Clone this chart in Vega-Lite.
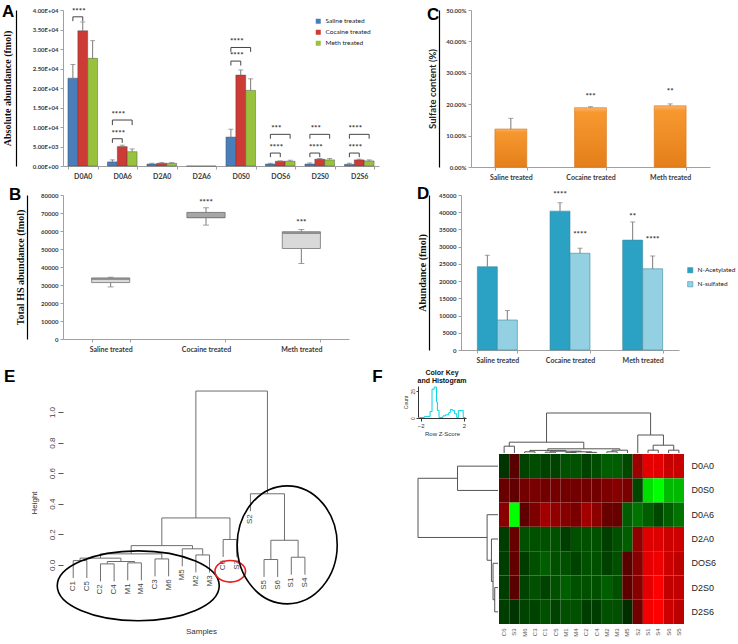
{
"$schema": "https://vega.github.io/schema/vega-lite/v6.json",
"background": "white",
"padding": {"left": 2, "top": 3, "right": 0, "bottom": 0},
"config": {"view": {"stroke": null}, "font": "Liberation Sans", "axis": {"grid": false}, "legend": {"labelFont": "Lato", "labelFontSize": 7.5, "labelColor": "#222"}},
"datasets": {
"hsA": [
{"disacc":"D0A0","treatment":"Saline treated","mean":22530,"upper":26030},
{"disacc":"D0A0","treatment":"Cocaine treated","mean":34670,"upper":36940},
{"disacc":"D0A0","treatment":"Meth treated","mean":27600,"upper":32140},
{"disacc":"D0A6","treatment":"Saline treated","mean":1050,"upper":1570},
{"disacc":"D0A6","treatment":"Cocaine treated","mean":4980,"upper":5330},
{"disacc":"D0A6","treatment":"Meth treated","mean":3670,"upper":4370},
{"disacc":"D2A0","treatment":"Saline treated","mean":520,"upper":700},
{"disacc":"D2A0","treatment":"Cocaine treated","mean":700,"upper":870},
{"disacc":"D2A0","treatment":"Meth treated","mean":700,"upper":870},
{"disacc":"D2A6","treatment":"Saline treated","mean":0,"upper":null},
{"disacc":"D2A6","treatment":"Cocaine treated","mean":0,"upper":null},
{"disacc":"D2A6","treatment":"Meth treated","mean":0,"upper":null},
{"disacc":"D0S0","treatment":"Saline treated","mean":7420,"upper":9430},
{"disacc":"D0S0","treatment":"Cocaine treated","mean":23320,"upper":24630},
{"disacc":"D0S0","treatment":"Meth treated","mean":19390,"upper":22360},
{"disacc":"DOS6","treatment":"Saline treated","mean":520,"upper":700},
{"disacc":"DOS6","treatment":"Cocaine treated","mean":1220,"upper":1310},
{"disacc":"DOS6","treatment":"Meth treated","mean":1220,"upper":1480},
{"disacc":"D2S0","treatment":"Saline treated","mean":520,"upper":780},
{"disacc":"D2S0","treatment":"Cocaine treated","mean":1750,"upper":1920},
{"disacc":"D2S0","treatment":"Meth treated","mean":1570,"upper":1920},
{"disacc":"D2S6","treatment":"Saline treated","mean":440,"upper":700},
{"disacc":"D2S6","treatment":"Cocaine treated","mean":1570,"upper":1750},
{"disacc":"D2S6","treatment":"Meth treated","mean":1310,"upper":1570}
],
"bracketsA": [
{"id":"b1","disacc":"D0A0","treatment":"Saline treated","y":37130,"ord":1},
{"id":"b1","disacc":"D0A0","treatment":"Saline treated","y":38250,"ord":2},
{"id":"b1","disacc":"D0A0","treatment":"Cocaine treated","y":38250,"ord":3},
{"id":"b1","disacc":"D0A0","treatment":"Cocaine treated","y":37130,"ord":4},
{"id":"b2","disacc":"D0A6","treatment":"Saline treated","y":10480,"ord":1},
{"id":"b2","disacc":"D0A6","treatment":"Saline treated","y":11790,"ord":2},
{"id":"b2","disacc":"D0A6","treatment":"Meth treated","y":11790,"ord":3},
{"id":"b2","disacc":"D0A6","treatment":"Meth treated","y":10480,"ord":4},
{"id":"b3","disacc":"D0A6","treatment":"Saline treated","y":5940,"ord":1},
{"id":"b3","disacc":"D0A6","treatment":"Saline treated","y":6990,"ord":2},
{"id":"b3","disacc":"D0A6","treatment":"Cocaine treated","y":6990,"ord":3},
{"id":"b3","disacc":"D0A6","treatment":"Cocaine treated","y":5940,"ord":4},
{"id":"b4","disacc":"D0S0","treatment":"Saline treated","y":29260,"ord":1},
{"id":"b4","disacc":"D0S0","treatment":"Saline treated","y":30390,"ord":2},
{"id":"b4","disacc":"D0S0","treatment":"Meth treated","y":30390,"ord":3},
{"id":"b4","disacc":"D0S0","treatment":"Meth treated","y":29260,"ord":4},
{"id":"b5","disacc":"D0S0","treatment":"Saline treated","y":25760,"ord":1},
{"id":"b5","disacc":"D0S0","treatment":"Saline treated","y":26900,"ord":2},
{"id":"b5","disacc":"D0S0","treatment":"Cocaine treated","y":26900,"ord":3},
{"id":"b5","disacc":"D0S0","treatment":"Cocaine treated","y":25760,"ord":4},
{"id":"b6","disacc":"DOS6","treatment":"Saline treated","y":6990,"ord":1},
{"id":"b6","disacc":"DOS6","treatment":"Saline treated","y":8120,"ord":2},
{"id":"b6","disacc":"DOS6","treatment":"Meth treated","y":8120,"ord":3},
{"id":"b6","disacc":"DOS6","treatment":"Meth treated","y":6990,"ord":4},
{"id":"b7","disacc":"DOS6","treatment":"Saline treated","y":2270,"ord":1},
{"id":"b7","disacc":"DOS6","treatment":"Saline treated","y":3320,"ord":2},
{"id":"b7","disacc":"DOS6","treatment":"Cocaine treated","y":3320,"ord":3},
{"id":"b7","disacc":"DOS6","treatment":"Cocaine treated","y":2270,"ord":4},
{"id":"b8","disacc":"D2S0","treatment":"Saline treated","y":6990,"ord":1},
{"id":"b8","disacc":"D2S0","treatment":"Saline treated","y":8120,"ord":2},
{"id":"b8","disacc":"D2S0","treatment":"Meth treated","y":8120,"ord":3},
{"id":"b8","disacc":"D2S0","treatment":"Meth treated","y":6990,"ord":4},
{"id":"b9","disacc":"D2S0","treatment":"Saline treated","y":2270,"ord":1},
{"id":"b9","disacc":"D2S0","treatment":"Saline treated","y":3320,"ord":2},
{"id":"b9","disacc":"D2S0","treatment":"Cocaine treated","y":3320,"ord":3},
{"id":"b9","disacc":"D2S0","treatment":"Cocaine treated","y":2270,"ord":4},
{"id":"b10","disacc":"D2S6","treatment":"Saline treated","y":6990,"ord":1},
{"id":"b10","disacc":"D2S6","treatment":"Saline treated","y":8120,"ord":2},
{"id":"b10","disacc":"D2S6","treatment":"Meth treated","y":8120,"ord":3},
{"id":"b10","disacc":"D2S6","treatment":"Meth treated","y":6990,"ord":4},
{"id":"b11","disacc":"D2S6","treatment":"Saline treated","y":2270,"ord":1},
{"id":"b11","disacc":"D2S6","treatment":"Saline treated","y":3320,"ord":2},
{"id":"b11","disacc":"D2S6","treatment":"Cocaine treated","y":3320,"ord":3},
{"id":"b11","disacc":"D2S6","treatment":"Cocaine treated","y":2270,"ord":4}
],
"starsA": [
{"disacc":"D0A0","treatment":"Cocaine treated","y":38250,"label":"****"},
{"disacc":"D0A6","treatment":"Cocaine treated","y":11790,"label":"****"},
{"disacc":"D0A6","treatment":"Cocaine treated","y":6990,"label":"****"},
{"disacc":"D0S0","treatment":"Cocaine treated","y":30390,"label":"****"},
{"disacc":"D0S0","treatment":"Cocaine treated","y":26900,"label":"****"},
{"disacc":"DOS6","treatment":"Cocaine treated","y":8120,"label":"***"},
{"disacc":"DOS6","treatment":"Cocaine treated","y":3320,"label":"****"},
{"disacc":"D2S0","treatment":"Cocaine treated","y":8120,"label":"***"},
{"disacc":"D2S0","treatment":"Cocaine treated","y":3320,"label":"****"},
{"disacc":"D2S6","treatment":"Cocaine treated","y":8120,"label":"****"},
{"disacc":"D2S6","treatment":"Cocaine treated","y":3320,"label":"****"}
],
"boxB": [
{"group":"Saline treated","lo":28940,"q1":31350,"med":33300,"q3":33900,"hi":34320,"star":"","starY":33000},
{"group":"Cocaine treated","lo":63270,"q1":67350,"med":67500,"q3":70320,"hi":72910,"star":"****","starY":75700},
{"group":"Meth treated","lo":41930,"q1":50280,"med":58800,"q3":59550,"hi":60850,"star":"***","starY":64560}
],
"sulC": [
{"group":"Saline treated","value":0.1209,"upper":0.155,"star":"","starY":0.1},
{"group":"Cocaine treated","value":0.189,"upper":0.192,"star":"***","starY":0.222},
{"group":"Meth treated","value":0.195,"upper":0.201,"star":"**","starY":0.240}
],
"nD": [
{"group":"Saline treated","type":"N-Acetylated","value":24170,"upper":27500,"star":"","starY":20000},
{"group":"Saline treated","type":"N-sulfated","value":8710,"upper":11450,"star":"","starY":5000},
{"group":"Cocaine treated","type":"N-Acetylated","value":40310,"upper":42760,"star":"****","starY":45000},
{"group":"Cocaine treated","type":"N-sulfated","value":28080,"upper":29550,"star":"****","starY":33270},
{"group":"Meth treated","type":"N-Acetylated","value":31900,"upper":37180,"star":"**","starY":38750},
{"group":"Meth treated","type":"N-sulfated","value":23580,"upper":27300,"star":"****","starY":31800}
],
"dendroE": [
{"x":0,"x2":0,"y":-0.086,"y2":0.028},{"x":1,"x2":1,"y":-0.086,"y2":0.028},{"x":0,"x2":1,"y":0.028,"y2":0.028},
{"x":2,"x2":2,"y":-0.1075,"y2":0.0065},{"x":3,"x2":3,"y":-0.1075,"y2":0.0065},{"x":2,"x2":3,"y":0.0065,"y2":0.0065},
{"x":4,"x2":4,"y":-0.101,"y2":0.013},{"x":5,"x2":5,"y":-0.101,"y2":0.013},{"x":4,"x2":5,"y":0.013,"y2":0.013},
{"x":2.5,"x2":2.5,"y":0.0065,"y2":0.022},{"x":4.5,"x2":4.5,"y":0.013,"y2":0.022},{"x":2.5,"x2":4.5,"y":0.022,"y2":0.022},
{"x":0.5,"x2":0.5,"y":0.028,"y2":0.044},{"x":3.5,"x2":3.5,"y":0.022,"y2":0.044},{"x":0.5,"x2":3.5,"y":0.044,"y2":0.044},
{"x":6,"x2":6,"y":-0.075,"y2":0.039},{"x":7,"x2":7,"y":-0.075,"y2":0.039},{"x":6,"x2":7,"y":0.039,"y2":0.039},
{"x":2,"x2":2,"y":0.044,"y2":0.072},{"x":6.5,"x2":6.5,"y":0.039,"y2":0.072},{"x":2,"x2":6.5,"y":0.072,"y2":0.072},
{"x":9,"x2":9,"y":-0.049,"y2":0.065},{"x":10,"x2":10,"y":-0.049,"y2":0.065},{"x":9,"x2":10,"y":0.065,"y2":0.065},
{"x":8,"x2":8,"y":-0.009,"y2":0.105},{"x":9.5,"x2":9.5,"y":0.065,"y2":0.105},{"x":8,"x2":9.5,"y":0.105,"y2":0.105},
{"x":4.25,"x2":4.25,"y":0.072,"y2":0.126},{"x":8.75,"x2":8.75,"y":0.105,"y2":0.126},{"x":4.25,"x2":8.75,"y":0.126,"y2":0.126},
{"x":11,"x2":11,"y":0.052,"y2":0.166},{"x":12,"x2":12,"y":0.052,"y2":0.166},{"x":11,"x2":12,"y":0.166,"y2":0.166},
{"x":6.5,"x2":6.5,"y":0.126,"y2":0.307},{"x":11.5,"x2":11.5,"y":0.166,"y2":0.307},{"x":6.5,"x2":11.5,"y":0.307,"y2":0.307},
{"x":14,"x2":14,"y":-0.079,"y2":0.035},{"x":15,"x2":15,"y":-0.079,"y2":0.035},{"x":14,"x2":15,"y":0.035,"y2":0.035},
{"x":16,"x2":16,"y":-0.064,"y2":0.05},{"x":17,"x2":17,"y":-0.064,"y2":0.05},{"x":16,"x2":17,"y":0.05,"y2":0.05},
{"x":14.5,"x2":14.5,"y":0.035,"y2":0.161},{"x":16.5,"x2":16.5,"y":0.05,"y2":0.161},{"x":14.5,"x2":16.5,"y":0.161,"y2":0.161},
{"x":13,"x2":13,"y":0.351,"y2":0.465},{"x":15.5,"x2":15.5,"y":0.161,"y2":0.465},{"x":13,"x2":15.5,"y":0.465,"y2":0.465},
{"x":9,"x2":9,"y":0.307,"y2":1.137},{"x":14.25,"x2":14.25,"y":0.465,"y2":1.137},{"x":9,"x2":14.25,"y":1.137,"y2":1.137}
],
"leavesE": [
{"leaf":"C1","idx":0,"h":-0.086},{"leaf":"C5","idx":1,"h":-0.086},{"leaf":"C2","idx":2,"h":-0.1075},{"leaf":"C4","idx":3,"h":-0.1075},
{"leaf":"M1","idx":4,"h":-0.101},{"leaf":"M4","idx":5,"h":-0.101},{"leaf":"C3","idx":6,"h":-0.075},{"leaf":"M6","idx":7,"h":-0.075},
{"leaf":"M5","idx":8,"h":-0.009},{"leaf":"M2","idx":9,"h":-0.049},{"leaf":"M3","idx":10,"h":-0.049},{"leaf":"C6","idx":11,"h":0.052},
{"leaf":"S3","idx":12,"h":0.052},{"leaf":"S2","idx":13,"h":0.351},{"leaf":"S5","idx":14,"h":-0.079},{"leaf":"S6","idx":15,"h":-0.079},
{"leaf":"S1","idx":16,"h":-0.064},{"leaf":"S4","idx":17,"h":-0.064}
],
"histF": [
{"z":-2.24,"count":0.5},{"z":-1.65,"count":1.5},{"z":-1.13,"count":6},{"z":-0.95,"count":27},{"z":-0.75,"count":29},
{"z":-0.54,"count":15},{"z":-0.45,"count":7},{"z":-0.3,"count":0.5},{"z":0.06,"count":2},{"z":0.3,"count":3},
{"z":0.6,"count":5},{"z":0.75,"count":8},{"z":0.95,"count":7},{"z":1.13,"count":4},{"z":1.34,"count":0.5},
{"z":1.49,"count":7},{"z":1.79,"count":7},{"z":1.94,"count":0.5},{"z":2.15,"count":0.5}
],
"colDendroF": [
{"x":0,"x2":0,"y":0,"y2":0.17},{"x":1,"x2":1,"y":0,"y2":0.17},{"x":0,"x2":1,"y":0.17,"y2":0.17},
{"x":2,"x2":2,"y":0,"y2":0.03},{"x":3,"x2":3,"y":0,"y2":0.03},{"x":2,"x2":3,"y":0.03,"y2":0.03},
{"x":4,"x2":4,"y":0,"y2":0.02},{"x":5,"x2":5,"y":0,"y2":0.02},{"x":4,"x2":5,"y":0.02,"y2":0.02},
{"x":6,"x2":6,"y":0,"y2":0.015},{"x":7,"x2":7,"y":0,"y2":0.015},{"x":6,"x2":7,"y":0.015,"y2":0.015},
{"x":8,"x2":8,"y":0,"y2":0.015},{"x":9,"x2":9,"y":0,"y2":0.015},{"x":8,"x2":9,"y":0.015,"y2":0.015},
{"x":6.5,"x2":6.5,"y":0.015,"y2":0.03},{"x":8.5,"x2":8.5,"y":0.015,"y2":0.03},{"x":6.5,"x2":8.5,"y":0.03,"y2":0.03},
{"x":4.5,"x2":4.5,"y":0.02,"y2":0.045},{"x":7.5,"x2":7.5,"y":0.03,"y2":0.045},{"x":4.5,"x2":7.5,"y":0.045,"y2":0.045},
{"x":2.5,"x2":2.5,"y":0.03,"y2":0.065},{"x":6,"x2":6,"y":0.045,"y2":0.065},{"x":2.5,"x2":6,"y":0.065,"y2":0.065},
{"x":10,"x2":10,"y":0,"y2":0.03},{"x":11,"x2":11,"y":0,"y2":0.03},{"x":10,"x2":11,"y":0.03,"y2":0.03},
{"x":10.5,"x2":10.5,"y":0.03,"y2":0.07},{"x":12,"x2":12,"y":0,"y2":0.07},{"x":10.5,"x2":12,"y":0.07,"y2":0.07},
{"x":4.25,"x2":4.25,"y":0.065,"y2":0.105},{"x":11.25,"x2":11.25,"y":0.07,"y2":0.105},{"x":4.25,"x2":11.25,"y":0.105,"y2":0.105},
{"x":0.5,"x2":0.5,"y":0.17,"y2":0.27},{"x":7.75,"x2":7.75,"y":0.105,"y2":0.27},{"x":0.5,"x2":7.75,"y":0.27,"y2":0.27},
{"x":14,"x2":14,"y":0,"y2":0.07},{"x":15,"x2":15,"y":0,"y2":0.07},{"x":14,"x2":15,"y":0.07,"y2":0.07},
{"x":16,"x2":16,"y":0,"y2":0.07},{"x":17,"x2":17,"y":0,"y2":0.07},{"x":16,"x2":17,"y":0.07,"y2":0.07},
{"x":14.5,"x2":14.5,"y":0.07,"y2":0.195},{"x":16.5,"x2":16.5,"y":0.07,"y2":0.195},{"x":14.5,"x2":16.5,"y":0.195,"y2":0.195},
{"x":13,"x2":13,"y":0,"y2":0.45},{"x":15.5,"x2":15.5,"y":0.195,"y2":0.45},{"x":13,"x2":15.5,"y":0.45,"y2":0.45},
{"x":4.125,"x2":4.125,"y":0.27,"y2":1},{"x":14.25,"x2":14.25,"y":0.45,"y2":1},{"x":4.125,"x2":14.25,"y":1,"y2":1}
],
"rowDendroF": [
{"h":0,"h2":0.506,"r":0,"r2":0},{"h":0,"h2":0.506,"r":1,"r2":1},{"h":0.506,"h2":0.506,"r":0,"r2":1},
{"h":0,"h2":0.041,"r":5,"r2":5},{"h":0,"h2":0.041,"r":6,"r2":6},{"h":0.041,"h2":0.041,"r":5,"r2":6},
{"h":0,"h2":0.062,"r":4,"r2":4},{"h":0.041,"h2":0.062,"r":5.5,"r2":5.5},{"h":0.062,"h2":0.062,"r":4,"r2":5.5},
{"h":0,"h2":0.082,"r":3,"r2":3},{"h":0.062,"h2":0.082,"r":4.75,"r2":4.75},{"h":0.082,"h2":0.082,"r":3,"r2":4.75},
{"h":0,"h2":0.136,"r":2,"r2":2},{"h":0.082,"h2":0.136,"r":3.875,"r2":3.875},{"h":0.136,"h2":0.136,"r":2,"r2":3.875},
{"h":0.506,"h2":1,"r":0.5,"r2":0.5},{"h":0.136,"h2":1,"r":2.9375,"r2":2.9375},{"h":1,"h2":1,"r":0.5,"r2":2.9375}
],
"heatF": [
{"feature":"D0A0","sample":"C6","z":-0.3},{"feature":"D0A0","sample":"S3","z":0},{"feature":"D0A0","sample":"M6","z":-0.45},{"feature":"D0A0","sample":"C3","z":-0.55},{"feature":"D0A0","sample":"C1","z":-0.45},{"feature":"D0A0","sample":"C5","z":-0.45},{"feature":"D0A0","sample":"M1","z":-0.6},{"feature":"D0A0","sample":"M4","z":-0.6},{"feature":"D0A0","sample":"C2","z":-0.45},{"feature":"D0A0","sample":"C4","z":-0.55},{"feature":"D0A0","sample":"M2","z":-0.7},{"feature":"D0A0","sample":"M3","z":-0.7},{"feature":"D0A0","sample":"M5","z":-0.5},{"feature":"D0A0","sample":"S2","z":0.88},{"feature":"D0A0","sample":"S1","z":1.7},{"feature":"D0A0","sample":"S4","z":1.7},{"feature":"D0A0","sample":"S6","z":1.38},{"feature":"D0A0","sample":"S5","z":1.38},
{"feature":"D0S0","sample":"C6","z":0.25},{"feature":"D0S0","sample":"S3","z":0.12},{"feature":"D0S0","sample":"M6","z":0.38},{"feature":"D0S0","sample":"C3","z":0.45},{"feature":"D0S0","sample":"C1","z":0.38},{"feature":"D0S0","sample":"C5","z":0.38},{"feature":"D0S0","sample":"M1","z":0.38},{"feature":"D0S0","sample":"M4","z":0.38},{"feature":"D0S0","sample":"C2","z":0.38},{"feature":"D0S0","sample":"C4","z":0.38},{"feature":"D0S0","sample":"M2","z":0.5},{"feature":"D0S0","sample":"M3","z":0.63},{"feature":"D0S0","sample":"M5","z":0.44},{"feature":"D0S0","sample":"S2","z":-0.5},{"feature":"D0S0","sample":"S1","z":-1.75},{"feature":"D0S0","sample":"S4","z":-2},{"feature":"D0S0","sample":"S6","z":-1.45},{"feature":"D0S0","sample":"S5","z":-1.45},
{"feature":"D0A6","sample":"C6","z":0.67},{"feature":"D0A6","sample":"S3","z":-2.1},{"feature":"D0A6","sample":"M6","z":0.1},{"feature":"D0A6","sample":"C3","z":0.5},{"feature":"D0A6","sample":"C1","z":0.95},{"feature":"D0A6","sample":"C5","z":0.75},{"feature":"D0A6","sample":"M1","z":0.63},{"feature":"D0A6","sample":"M4","z":0.45},{"feature":"D0A6","sample":"C2","z":0.95},{"feature":"D0A6","sample":"C4","z":0.7},{"feature":"D0A6","sample":"M2","z":0.25},{"feature":"D0A6","sample":"M3","z":0.25},{"feature":"D0A6","sample":"M5","z":-0.7},{"feature":"D0A6","sample":"S2","z":-0.88},{"feature":"D0A6","sample":"S1","z":-0.7},{"feature":"D0A6","sample":"S4","z":-0.5},{"feature":"D0A6","sample":"S6","z":-0.7},{"feature":"D0A6","sample":"S5","z":-0.88},
{"feature":"D2A0","sample":"C6","z":-0.4},{"feature":"D2A0","sample":"S3","z":0.25},{"feature":"D2A0","sample":"M6","z":-0.58},{"feature":"D2A0","sample":"C3","z":-0.58},{"feature":"D2A0","sample":"C1","z":-0.58},{"feature":"D2A0","sample":"C5","z":-0.58},{"feature":"D2A0","sample":"M1","z":-0.4},{"feature":"D2A0","sample":"M4","z":-0.58},{"feature":"D2A0","sample":"C2","z":-0.58},{"feature":"D2A0","sample":"C4","z":-0.58},{"feature":"D2A0","sample":"M2","z":-0.42},{"feature":"D2A0","sample":"M3","z":-0.58},{"feature":"D2A0","sample":"M5","z":-0.7},{"feature":"D2A0","sample":"S2","z":0.75},{"feature":"D2A0","sample":"S1","z":1.63},{"feature":"D2A0","sample":"S4","z":1.63},{"feature":"D2A0","sample":"S6","z":1.45},{"feature":"D2A0","sample":"S5","z":1.45},
{"feature":"DOS6","sample":"C6","z":-0.4},{"feature":"DOS6","sample":"S3","z":0.15},{"feature":"DOS6","sample":"M6","z":-0.38},{"feature":"DOS6","sample":"C3","z":-0.58},{"feature":"DOS6","sample":"C1","z":-0.7},{"feature":"DOS6","sample":"C5","z":-0.58},{"feature":"DOS6","sample":"M1","z":-0.58},{"feature":"DOS6","sample":"M4","z":-0.45},{"feature":"DOS6","sample":"C2","z":-0.58},{"feature":"DOS6","sample":"C4","z":-0.58},{"feature":"DOS6","sample":"M2","z":-0.44},{"feature":"DOS6","sample":"M3","z":-0.58},{"feature":"DOS6","sample":"M5","z":0},{"feature":"DOS6","sample":"S2","z":0.63},{"feature":"DOS6","sample":"S1","z":1.7},{"feature":"DOS6","sample":"S4","z":1.82},{"feature":"DOS6","sample":"S6","z":1.45},{"feature":"DOS6","sample":"S5","z":1.25},
{"feature":"D2S0","sample":"C6","z":-0.4},{"feature":"D2S0","sample":"S3","z":0},{"feature":"D2S0","sample":"M6","z":-0.45},{"feature":"D2S0","sample":"C3","z":-0.58},{"feature":"D2S0","sample":"C1","z":-0.45},{"feature":"D2S0","sample":"C5","z":-0.58},{"feature":"D2S0","sample":"M1","z":-0.7},{"feature":"D2S0","sample":"M4","z":-0.58},{"feature":"D2S0","sample":"C2","z":-0.58},{"feature":"D2S0","sample":"C4","z":-0.58},{"feature":"D2S0","sample":"M2","z":-0.7},{"feature":"D2S0","sample":"M3","z":-0.58},{"feature":"D2S0","sample":"M5","z":0.1},{"feature":"D2S0","sample":"S2","z":0.63},{"feature":"D2S0","sample":"S1","z":1.7},{"feature":"D2S0","sample":"S4","z":2},{"feature":"D2S0","sample":"S6","z":1.32},{"feature":"D2S0","sample":"S5","z":1.32},
{"feature":"D2S6","sample":"C6","z":-0.4},{"feature":"D2S6","sample":"S3","z":-0.3},{"feature":"D2S6","sample":"M6","z":-0.45},{"feature":"D2S6","sample":"C3","z":-0.45},{"feature":"D2S6","sample":"C1","z":-0.58},{"feature":"D2S6","sample":"C5","z":-0.45},{"feature":"D2S6","sample":"M1","z":-0.58},{"feature":"D2S6","sample":"M4","z":-0.58},{"feature":"D2S6","sample":"C2","z":-0.4},{"feature":"D2S6","sample":"C4","z":-0.4},{"feature":"D2S6","sample":"M2","z":-0.58},{"feature":"D2S6","sample":"M3","z":-0.58},{"feature":"D2S6","sample":"M5","z":-0.2},{"feature":"D2S6","sample":"S2","z":0.38},{"feature":"D2S6","sample":"S1","z":1.87},{"feature":"D2S6","sample":"S4","z":2},{"feature":"D2S6","sample":"S6","z":1.45},{"feature":"D2S6","sample":"S5","z":1.25}
]
},
"columns": 1,
"align": "none",
"spacing": 5,
"resolve": {"scale": {"color": "independent", "xOffset": "independent"}, "legend": {"color": "independent"}},
"concat": [
{"columns": 2, "align": "none", "spacing": 48,
"resolve": {"scale": {"color": "independent", "xOffset": "independent"}, "legend": {"color": "independent"}},
"concat": [
{
"width": 316, "height": 156,
"title": {"text": "A", "orient": "top", "anchor": "start", "frame": "bounds", "align": "left", "baseline": "top", "font": "Liberation Sans", "fontSize": 17, "fontWeight": "bold", "color": "#000", "offset": 0, "dy": 14},
"data": {"name": "hsA"},
"encoding": {
"x": {"field": "disacc", "type": "nominal", "sort": ["D0A0","D0A6","D2A0","D2A6","D0S0","DOS6","D2S0","D2S6"], "scale": {"type": "band", "paddingInner": 0.25, "paddingOuter": 0.125},
"axis": {"title": null, "labelAngle": 0, "labelFont": "Lato", "labelFontWeight": "bold", "labelFontSize": 7, "labelColor": "#3a3a3a", "tickBand": "extent", "tickSize": 3, "tickColor": "#a0a0a0", "domainColor": "#a0a0a0", "labelPadding": 3}},
"xOffset": {"field": "treatment", "type": "nominal", "sort": ["Saline treated","Cocaine treated","Meth treated"], "scale": {"type": "band", "domain": ["Saline treated","Cocaine treated","Meth treated"], "paddingInner": 0, "paddingOuter": 0}}
},
"layer": [
{"mark": {"type": "bar", "stroke": "#3d3d3d", "strokeWidth": 0.4},
"encoding": {
"y": {"field": "mean", "type": "quantitative", "scale": {"domain": [0, 40000], "nice": false},
"axis": {"title": null, "values": [0,5000,10000,15000,20000,25000,30000,35000,40000], "labelExpr": "replace(format(datum.value, '.2e'), 'e+', 'E+0')", "labelFont": "Lato", "labelFontWeight": "bold", "labelFontSize": 6, "labelColor": "#3a3a3a", "tickSize": 3, "tickColor": "#a0a0a0", "domainColor": "#a0a0a0", "labelPadding": 2}},
"color": {"field": "treatment", "type": "nominal", "scale": {"domain": ["Saline treated","Cocaine treated","Meth treated"], "range": ["#4a7ebb", "#cd3b36", "#98c23d"]},
"legend": {"title": null, "orient": "top-right", "offset": 8, "symbolType": "square", "symbolSize": 25, "symbolStrokeWidth": 0, "labelFontSize": 6.5, "rowPadding": 4}}
}},
{"mark": {"type": "rule", "color": "#7a7a7a"}, "encoding": {"y": {"field": "mean", "type": "quantitative", "axis": null}, "y2": {"field": "upper"}}},
{"mark": {"type": "tick", "color": "#7a7a7a", "size": 5, "thickness": 1}, "encoding": {"y": {"field": "upper", "type": "quantitative", "axis": null}}},
{"data": {"name": "bracketsA"}, "mark": {"type": "line", "color": "#444", "strokeWidth": 1}, "encoding": {"y": {"field": "y", "type": "quantitative", "axis": null}, "detail": {"field": "id"}, "order": {"field": "ord"}}},
{"data": {"name": "starsA"}, "mark": {"type": "text", "dx": -4, "dy": -1, "baseline": "bottom", "fontSize": 8, "fontWeight": "bold", "color": "#333", "font": "Lato"}, "encoding": {"y": {"field": "y", "type": "quantitative", "axis": null}, "text": {"field": "label"}}},
{"mark": {"type": "point", "opacity": 0}, "encoding": {"y": {"field": "mean", "type": "quantitative", "axis": {"orient": "left", "offset": 47, "labels": false, "ticks": false, "domainColor": "#000000", "domainWidth": 1.2, "title": "Absolute  abundance (fmol)", "titleFont": "Liberation Serif", "titleFontWeight": "bold", "titleFontSize": 10, "titleColor": "#111", "titlePadding": 4}}}}
],
"resolve": {"axis": {"y": "independent"}}
},
{
"width": 239, "height": 157,
"title": {"text": "C", "orient": "top", "anchor": "start", "frame": "bounds", "align": "left", "baseline": "top", "font": "Liberation Sans", "fontSize": 17, "fontWeight": "bold", "color": "#000", "offset": 0, "dy": 17},
"data": {"name": "sulC"},
"encoding": {
"x": {"field": "group", "type": "nominal", "sort": ["Saline treated","Cocaine treated","Meth treated"], "scale": {"type": "band", "paddingInner": 0.6, "paddingOuter": 0.3},
"axis": {"title": null, "labelAngle": 0, "labelFont": "Lato", "labelFontWeight": "bold", "labelFontSize": 7, "labelColor": "#3a3a3a", "tickBand": "extent", "tickSize": 3, "tickColor": "#a0a0a0", "domainColor": "#a0a0a0", "labelPadding": 3}}
},
"layer": [
{"mark": {"type": "bar", "color": {"gradient": "linear", "x1": 0, "y1": 0, "x2": 0, "y2": 1, "stops": [{"offset": 0, "color": "#fcb46c"}, {"offset": 0.08, "color": "#f7982f"}, {"offset": 1, "color": "#e47f1a"}]}, "stroke": "#d6731a", "strokeWidth": 0.6},
"encoding": {"y": {"field": "value", "type": "quantitative", "scale": {"domain": [0, 0.5], "nice": false},
"axis": {"title": null, "values": [0,0.1,0.2,0.3,0.4,0.5], "format": ".2%", "labelFont": "Lato", "labelFontWeight": "bold", "labelFontSize": 6, "labelColor": "#3a3a3a", "tickSize": 3, "tickColor": "#a0a0a0", "domainColor": "#a0a0a0", "labelPadding": 2}}}},
{"mark": {"type": "rule", "color": "#7a7a7a"}, "encoding": {"y": {"field": "value", "type": "quantitative", "axis": null}, "y2": {"field": "upper"}}},
{"mark": {"type": "tick", "color": "#7a7a7a", "size": 5, "thickness": 1}, "encoding": {"y": {"field": "upper", "type": "quantitative", "axis": null}}},
{"mark": {"type": "text", "fontSize": 8, "fontWeight": "bold", "color": "#333", "baseline": "middle", "font": "Lato"}, "encoding": {"y": {"field": "starY", "type": "quantitative", "axis": null}, "text": {"field": "star"}}},
{"mark": {"type": "point", "opacity": 0}, "encoding": {"y": {"field": "value", "type": "quantitative", "axis": {"orient": "left", "offset": 32, "labels": false, "ticks": false, "domainColor": "#000000", "domainWidth": 1.2, "title": "Sulfate content (%)", "titleFont": "Lato", "titleFontWeight": "bold", "titleFontSize": 9.5, "titleColor": "#222", "titlePadding": 2}}}}
],
"resolve": {"axis": {"y": "independent"}}
}
]},
{"columns": 2, "align": "none", "spacing": 68,
"resolve": {"scale": {"color": "independent", "xOffset": "independent"}, "legend": {"color": "independent"}},
"concat": [
{
"width": 286, "height": 144,
"title": {"text": "B", "orient": "top", "anchor": "start", "frame": "bounds", "align": "left", "baseline": "top", "font": "Liberation Sans", "fontSize": 17, "fontWeight": "bold", "color": "#000", "offset": 0, "dy": 12, "dx": -6},
"data": {"name": "boxB"},
"encoding": {
"x": {"field": "group", "type": "nominal", "sort": ["Saline treated","Cocaine treated","Meth treated"], "scale": {"type": "band", "paddingInner": 0.6, "paddingOuter": 0.3},
"axis": {"title": null, "labelAngle": 0, "labelFont": "Lato", "labelFontWeight": "bold", "labelFontSize": 7, "labelColor": "#3a3a3a", "tickBand": "extent", "tickSize": 3, "tickColor": "#a0a0a0", "domainColor": "#a0a0a0", "labelPadding": 3}}
},
"layer": [
{"mark": {"type": "rule", "color": "#7a7a7a"}, "encoding": {"y": {"field": "lo", "type": "quantitative", "scale": {"domain": [0, 80000], "nice": false},
"axis": {"title": null, "values": [0,10000,20000,30000,40000,50000,60000,70000,80000], "format": "d", "labelFont": "Lato", "labelFontWeight": "bold", "labelFontSize": 6, "labelColor": "#3a3a3a", "tickSize": 3, "tickColor": "#a0a0a0", "domainColor": "#a0a0a0", "labelPadding": 2}}, "y2": {"field": "hi"}}},
{"mark": {"type": "bar", "color": "#d9d9d9", "stroke": "#8c8c8c", "strokeWidth": 1}, "encoding": {"y": {"field": "q1", "type": "quantitative", "axis": null}, "y2": {"field": "med"}}},
{"mark": {"type": "bar", "color": "#a6a6a6", "stroke": "#7f7f7f", "strokeWidth": 1}, "encoding": {"y": {"field": "med", "type": "quantitative", "axis": null}, "y2": {"field": "q3"}}},
{"mark": {"type": "tick", "color": "#7a7a7a", "size": 6, "thickness": 1}, "encoding": {"y": {"field": "lo", "type": "quantitative", "axis": null}}},
{"mark": {"type": "tick", "color": "#7a7a7a", "size": 6, "thickness": 1}, "encoding": {"y": {"field": "hi", "type": "quantitative", "axis": null}}},
{"mark": {"type": "text", "fontSize": 8, "fontWeight": "bold", "color": "#333", "baseline": "middle", "font": "Lato"}, "encoding": {"y": {"field": "starY", "type": "quantitative", "axis": null}, "text": {"field": "star"}}},
{"mark": {"type": "point", "opacity": 0}, "encoding": {"y": {"field": "hi", "type": "quantitative", "axis": {"orient": "left", "offset": 36, "labels": false, "ticks": false, "domainColor": "#000000", "domainWidth": 1.2, "title": "Total  HS abundance (fmol)", "titleFont": "Liberation Serif", "titleFontWeight": "bold", "titleFontSize": 10, "titleColor": "#111", "titlePadding": 2}}}}
],
"resolve": {"axis": {"y": "independent"}}
},
{
"width": 218, "height": 155,
"title": {"text": "D", "orient": "top", "anchor": "start", "frame": "bounds", "align": "left", "baseline": "top", "font": "Liberation Sans", "fontSize": 17, "fontWeight": "bold", "color": "#000", "offset": 0, "dy": 12},
"data": {"name": "nD"},
"encoding": {
"x": {"field": "group", "type": "nominal", "sort": ["Saline treated","Cocaine treated","Meth treated"], "scale": {"type": "band", "paddingInner": 0.45, "paddingOuter": 0.225},
"axis": {"title": null, "labelAngle": 0, "labelFont": "Lato", "labelFontWeight": "bold", "labelFontSize": 7, "labelColor": "#3a3a3a", "tickBand": "extent", "tickSize": 3, "tickColor": "#a0a0a0", "domainColor": "#a0a0a0", "labelPadding": 3}},
"xOffset": {"field": "type", "type": "nominal", "scale": {"type": "band", "domain": ["N-Acetylated","N-sulfated"], "paddingInner": 0, "paddingOuter": 0}}
},
"layer": [
{"mark": {"type": "bar", "stroke": "#3b8aa3", "strokeWidth": 0.6},
"encoding": {"y": {"field": "value", "type": "quantitative", "scale": {"domain": [0, 45000], "nice": false},
"axis": {"title": null, "values": [0,5000,10000,15000,20000,25000,30000,35000,40000,45000], "format": "d", "labelFont": "Lato", "labelFontWeight": "bold", "labelFontSize": 6, "labelColor": "#3a3a3a", "tickSize": 3, "tickColor": "#a0a0a0", "domainColor": "#a0a0a0", "labelPadding": 2}},
"color": {"field": "type", "type": "nominal", "scale": {"domain": ["N-Acetylated","N-sulfated"], "range": ["#2ba2c4", "#92d0e2"]},
"legend": {"title": null, "orient": "none", "legendX": 226, "legendY": 72, "symbolType": "square", "symbolSize": 28, "symbolStrokeWidth": 0.5, "symbolStrokeColor": "#3b8aa3", "labelFontSize": 6.5, "rowPadding": 6}}}},
{"mark": {"type": "rule", "color": "#7a7a7a"}, "encoding": {"y": {"field": "value", "type": "quantitative", "axis": null}, "y2": {"field": "upper"}}},
{"mark": {"type": "tick", "color": "#7a7a7a", "size": 5, "thickness": 1}, "encoding": {"y": {"field": "upper", "type": "quantitative", "axis": null}}},
{"mark": {"type": "text", "fontSize": 8, "fontWeight": "bold", "color": "#333", "baseline": "middle", "font": "Lato"}, "encoding": {"y": {"field": "starY", "type": "quantitative", "axis": null}, "text": {"field": "star"}}},
{"mark": {"type": "point", "opacity": 0}, "encoding": {"y": {"field": "value", "type": "quantitative", "axis": {"orient": "left", "offset": 32, "labels": false, "ticks": false, "domainColor": "#000000", "domainWidth": 1.2, "title": "Abundance (fmol)", "titleFont": "Liberation Serif", "titleFontWeight": "bold", "titleFontSize": 10, "titleColor": "#111", "titlePadding": 2}}}}
],
"resolve": {"axis": {"y": "independent"}}
}
]},
{"columns": 2, "align": "none", "spacing": 31,
"resolve": {"scale": {"color": "independent", "xOffset": "independent"}, "legend": {"color": "independent"}},
"concat": [
{
"width": 276, "height": 233,
"title": {"text": "E", "orient": "top", "anchor": "start", "frame": "bounds", "align": "left", "baseline": "top", "font": "Liberation Sans", "fontSize": 17, "fontWeight": "bold", "color": "#000", "offset": 0, "dy": 0, "dx": -26},
"layer": [
{"data": {"name": "dendroE"}, "mark": {"type": "rule", "color": "#6e6e6e", "strokeWidth": 1},
"encoding": {
"x": {"field": "x", "type": "quantitative", "scale": {"domain": [-0.75, 19.5], "nice": false, "zero": false},
"axis": {"title": "Samples", "labels": false, "ticks": false, "domain": false, "titleFont": "Liberation Sans", "titleFontWeight": "normal", "titleFontSize": 8, "titleColor": "#333", "titlePadding": 8}},
"x2": {"field": "x2"},
"y": {"field": "y", "type": "quantitative", "scale": {"domain": [-0.354, 1.17], "nice": false, "zero": false},
"axis": {"values": [0, 0.2, 0.4, 0.6, 0.8, 1.0], "format": ".1f", "labelAngle": 270, "labelAlign": "center", "labelBaseline": "bottom", "domain": false, "tickColor": "#555", "tickSize": 5, "labelPadding": 2, "labelFont": "Liberation Sans", "labelFontSize": 8, "labelColor": "#444", "title": "Height", "titleFont": "Liberation Sans", "titleFontWeight": "normal", "titleFontSize": 8, "titleColor": "#333", "titlePadding": 10}},
"y2": {"field": "y2"}
}},
{"mark": {"type": "rule", "color": "#555"}, "encoding": {"x": {"datum": -0.75}, "y": {"datum": 0}, "y2": {"datum": 1.0}}},
{"data": {"name": "leavesE"}, "mark": {"type": "text", "angle": 270, "align": "right", "baseline": "middle", "dx": -3, "fontSize": 8, "color": "#444", "font": "Liberation Sans"},
"encoding": {"x": {"field": "idx", "type": "quantitative"}, "y": {"field": "h", "type": "quantitative"}, "text": {"field": "leaf"}}},
{"data": {"values": [{"cx": 4.77, "cy": -0.137}]}, "mark": {"type": "point", "shape": "M -1 0 C -1 -0.2386 -0.5523 -0.432 0 -0.432 C 0.5523 -0.432 1 -0.2386 1 0 C 1 0.2386 0.5523 0.432 0 0.432 C -0.5523 0.432 -1 0.2386 -1 0 Z", "size": 26244, "filled": false, "color": "#000", "strokeWidth": 1.6, "opacity": 1},
"encoding": {"x": {"field": "cx", "type": "quantitative"}, "y": {"field": "cy", "type": "quantitative"}}},
{"data": {"values": [{"cx": 11.52, "cy": -0.042}]}, "mark": {"type": "point", "shape": "M -1 0 C -1 -0.39 -0.5523 -0.706 0 -0.706 C 0.5523 -0.706 1 -0.39 1 0 C 1 0.39 0.5523 0.706 0 0.706 C -0.5523 0.706 -1 0.39 -1 0 Z", "size": 936, "filled": false, "color": "#e8201c", "strokeWidth": 1.6, "opacity": 1},
"encoding": {"x": {"field": "cx", "type": "quantitative"}, "y": {"field": "cy", "type": "quantitative"}}},
{"data": {"values": [{"cx": 15.7, "cy": 0.131}]}, "mark": {"type": "point", "shape": "M -1 0 C -1 -0.6517 -0.5523 -1.18 0 -1.18 C 0.5523 -1.18 1 -0.6517 1 0 C 1 0.6517 0.5523 1.18 0 1.18 C -0.5523 1.18 -1 0.6517 -1 0 Z", "size": 10000, "filled": false, "color": "#000", "strokeWidth": 1.6, "opacity": 1},
"encoding": {"x": {"field": "cx", "type": "quantitative"}, "y": {"field": "cy", "type": "quantitative"}}}
]
},
{
"title": {"text": "F", "orient": "left", "anchor": "end", "angle": 0, "align": "right", "baseline": "top", "font": "Liberation Sans", "fontSize": 17, "fontWeight": "bold", "color": "#000", "offset": 10},
"columns": 2,
"align": "each",
"spacing": {"row": 0, "column": 0},
"resolve": {"scale": {"color": "independent"}, "legend": {"color": "independent"}},
"concat": [
{
"width": 48, "height": 32,
"title": {"text": ["Color Key", "and Histogram"], "fontSize": 7, "fontWeight": "bold", "font": "Liberation Sans", "offset": 1, "lineHeight": 8, "anchor": "middle", "color": "#111"},
"layer": [
{"mark": {"type": "rect", "color": {"gradient": "linear", "x1": 0, "y1": 0, "x2": 1, "y2": 0, "stops": [{"offset": 0, "color": "#00ff00"}, {"offset": 0.506, "color": "#000000"}, {"offset": 1, "color": "#ff0000"}]}},
"encoding": {
"x": {"datum": -2.25, "type": "quantitative", "scale": {"domain": [-2.25, 2.2], "nice": false, "zero": false},
"axis": {"values": [-2, -1, 0, 1, 2], "title": "Row Z-Score", "titleFont": "Liberation Sans", "titleFontWeight": "normal", "titleFontSize": 6, "titleColor": "#333", "titlePadding": 2, "labelFontSize": 6, "labelFont": "Liberation Sans", "labelColor": "#333", "tickSize": 3, "labelPadding": 1, "domainColor": "#333", "tickColor": "#333"}},
"x2": {"datum": 2.2},
"y": {"datum": 0, "type": "quantitative", "scale": {"domain": [0, 30], "nice": false},
"axis": {"values": [0, 5, 10, 15, 20, 25], "labelExpr": "datum.value == 0 || datum.value == 10 || datum.value == 25 ? datum.label : ''", "labelAngle": 270, "labelAlign": "center", "labelBaseline": "bottom", "title": "Count", "titleFont": "Liberation Sans", "titleFontWeight": "normal", "titleFontSize": 5, "titleColor": "#333", "titlePadding": 2, "labelFontSize": 5, "labelFont": "Liberation Sans", "labelColor": "#333", "tickSize": 2, "labelPadding": 1, "domainColor": "#333", "tickColor": "#333"}},
"y2": {"datum": 30}
}},
{"data": {"name": "histF"}, "mark": {"type": "line", "interpolate": "step-after", "color": "#00d5e0", "strokeWidth": 1},
"encoding": {"x": {"field": "z", "type": "quantitative"}, "y": {"field": "count", "type": "quantitative"}}}
]
},
{
"width": 185, "height": 67,
"data": {"name": "colDendroF"},
"mark": {"type": "rule", "color": "#555", "strokeWidth": 1},
"encoding": {
"x": {"field": "x", "type": "quantitative", "scale": {"domain": [-0.5, 17.5], "nice": false, "zero": false}, "axis": null},
"x2": {"field": "x2"},
"y": {"field": "y", "type": "quantitative", "scale": {"domain": [0, 1.675], "nice": false}, "axis": null},
"y2": {"field": "y2"}
}
},
{
"width": 80, "height": 170,
"data": {"name": "rowDendroF"},
"mark": {"type": "rule", "color": "#555", "strokeWidth": 1},
"encoding": {
"x": {"field": "h", "type": "quantitative", "scale": {"domain": [0, 1], "reverse": true, "nice": false}, "axis": null},
"x2": {"field": "h2"},
"y": {"field": "r", "type": "quantitative", "scale": {"domain": [-0.5, 6.5], "reverse": true, "nice": false, "zero": false}, "axis": null},
"y2": {"field": "r2"}
}
},
{
"width": 185, "height": 170,
"data": {"name": "heatF"},
"mark": {"type": "rect"},
"encoding": {
"x": {"field": "sample", "type": "nominal", "sort": ["C6","S3","M6","C3","C1","C5","M1","M4","C2","C4","M2","M3","M5","S2","S1","S4","S6","S5"], "scale": {"paddingInner": 0, "paddingOuter": 0},
"axis": {"orient": "bottom", "labelAngle": 270, "labelFontSize": 6, "labelColor": "#555", "ticks": false, "domain": false, "title": null, "labelPadding": 4, "labelFont": "Liberation Sans"}},
"y": {"field": "feature", "type": "nominal", "sort": ["D0A0","D0S0","D0A6","D2A0","DOS6","D2S0","D2S6"], "scale": {"paddingInner": 0, "paddingOuter": 0},
"axis": {"orient": "right", "labelFontSize": 9, "labelColor": "#222", "ticks": false, "domain": false, "title": null, "labelPadding": 7, "labelFont": "Liberation Sans"}},
"color": {"field": "z", "type": "quantitative", "scale": {"domain": [-2, 0, 2], "range": ["#00ff00", "#000000", "#ff0000"], "clamp": true}, "legend": null}
}
}
]
}
]}
]
}
